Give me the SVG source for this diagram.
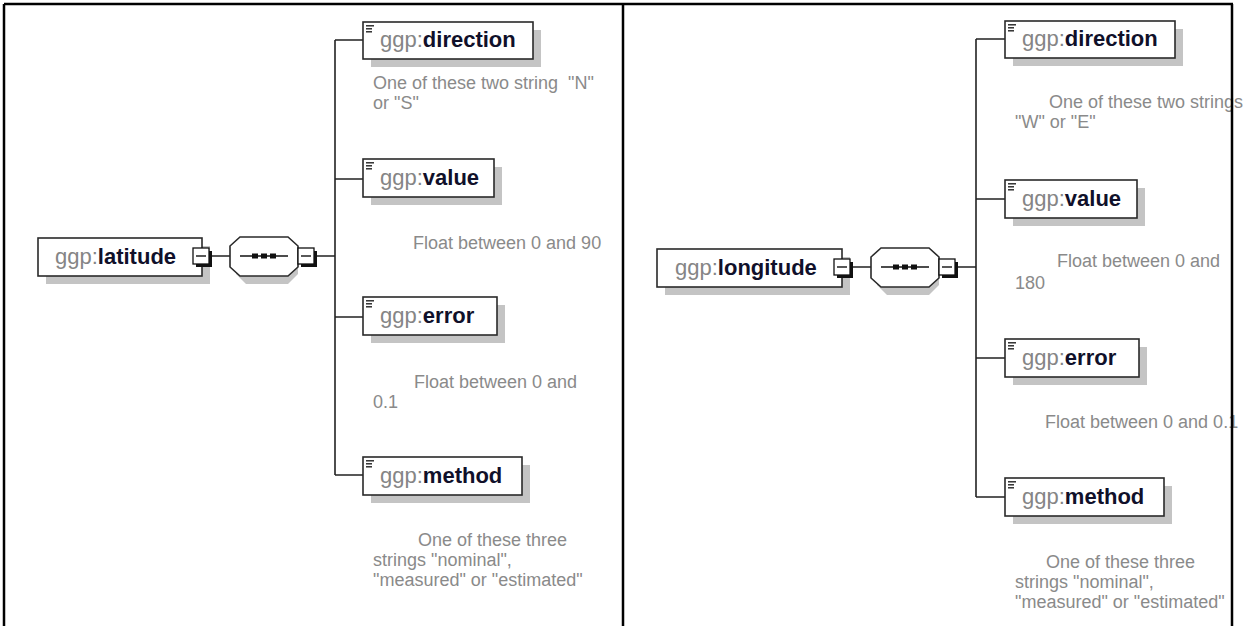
<svg xmlns="http://www.w3.org/2000/svg" width="1247" height="626" viewBox="0 0 1247 626">
<style>
.shadow{fill:#c4c4c4}
.box{fill:#fff;stroke:#2a2a2a;stroke-width:1.6}
.icon{stroke:#222;stroke-width:1.4}
.conn{fill:none;stroke:#222;stroke-width:1.6}
.name{font-family:"Liberation Sans",Arial,sans-serif;font-size:22px}
.pre{fill:#858585}
.nm{fill:#10102a;font-weight:bold}
.desc{font-family:"Liberation Sans",Arial,sans-serif;font-size:18px;fill:#8a8a8a;white-space:pre}
.btn{fill:#fff;stroke:#111;stroke-width:1.3}
.btnsh{fill:#111}
.frame{stroke:#000;stroke-width:2.5;fill:none}
</style>
<defs>
<g id="docicon"><line class="icon" x1="3" y1="3.8" x2="11" y2="3.8"/><line class="icon" x1="3" y1="6.8" x2="9" y2="6.8"/><line class="icon" x1="3" y1="9.8" x2="9" y2="9.8"/></g>
<g id="minus"><rect class="btnsh" x="3" y="3" width="16" height="16"/><rect class="btn" x="0" y="0" width="16" height="16"/><line x1="3" y1="8" x2="13" y2="8" stroke="#111" stroke-width="1.4"/></g>
<g id="seq"><polygon class="shadow" points="16,7 58,7 68,16 68,37 58,47 16,47 6,37 6,16"/><polygon points="10,0 58,0 68,9 68,30 58,39 10,39 0,30 0,9" fill="#fff" stroke="#2a2a2a" stroke-width="1.6"/><line x1="10" y1="19" x2="58" y2="19" stroke="#111" stroke-width="1.6"/><rect x="22" y="16.5" width="6" height="5" fill="#111"/><rect x="31" y="16.5" width="6" height="5" fill="#111"/><rect x="40" y="16.5" width="6" height="5" fill="#111"/></g>
</defs>

<g id="connectors">
<path class="conn" d="M211 256H230 M317 256H335 M335 40V475 M335 40H363 M335 179H363 M335 317H363 M335 475H363"/>
<path class="conn" d="M852 267H872 M957 267H976 M976 39V497 M976 39H1005 M976 199H1005 M976 358H1005 M976 497H1005"/>
</g>

<g id="latitude">
<rect class="shadow" x="46" y="246" width="164" height="38"/>
<rect class="box" x="38" y="238" width="164" height="38"/>
<text class="name" x="55" y="264"><tspan class="pre">ggp:</tspan><tspan class="nm">latitude</tspan></text>
<use href="#minus" x="193" y="248"/>
</g>
<g id="latitude-seq">
<use href="#seq" x="230" y="237"/>
<use href="#minus" x="298" y="248"/>
</g>

<g id="lat-direction">
<rect class="shadow" x="371" y="30" width="170" height="37"/>
<rect class="box" x="363" y="22" width="170" height="37"/>
<use href="#docicon" x="363" y="22"/>
<text class="name" x="380" y="47"><tspan class="pre">ggp:</tspan><tspan class="nm">direction</tspan></text>
<text class="desc" x="373" y="89">One of these two string  "N"</text>
<text class="desc" x="373" y="109">or "S"</text>
</g>
<g id="lat-value">
<rect class="shadow" x="371" y="167" width="131" height="38"/>
<rect class="box" x="363" y="159" width="131" height="38"/>
<use href="#docicon" x="363" y="159"/>
<text class="name" x="380" y="185"><tspan class="pre">ggp:</tspan><tspan class="nm">value</tspan></text>
<text class="desc" x="413" y="249">Float between 0 and 90</text>
</g>
<g id="lat-error">
<rect class="shadow" x="371" y="305" width="134" height="38"/>
<rect class="box" x="363" y="297" width="134" height="38"/>
<use href="#docicon" x="363" y="297"/>
<text class="name" x="380" y="323"><tspan class="pre">ggp:</tspan><tspan class="nm">error</tspan></text>
<text class="desc" x="414" y="388">Float between 0 and</text>
<text class="desc" x="373" y="408">0.1</text>
</g>
<g id="lat-method">
<rect class="shadow" x="371" y="465" width="159" height="38"/>
<rect class="box" x="363" y="457" width="159" height="38"/>
<use href="#docicon" x="363" y="457"/>
<text class="name" x="380" y="483"><tspan class="pre">ggp:</tspan><tspan class="nm">method</tspan></text>
<text class="desc" x="418" y="546">One of these three</text>
<text class="desc" x="373" y="566">strings "nominal",</text>
<text class="desc" x="373" y="586">"measured" or "estimated"</text>
</g>

<g id="longitude">
<rect class="shadow" x="665" y="257" width="185" height="38"/>
<rect class="box" x="657" y="249" width="185" height="38"/>
<text class="name" x="675" y="275"><tspan class="pre">ggp:</tspan><tspan class="nm">longitude</tspan></text>
<use href="#minus" x="834" y="259"/>
</g>
<g id="longitude-seq">
<use href="#seq" x="871" y="248"/>
<use href="#minus" x="939" y="259"/>
</g>

<g id="lon-direction">
<rect class="shadow" x="1013" y="29" width="170" height="37"/>
<rect class="box" x="1005" y="21" width="170" height="37"/>
<use href="#docicon" x="1005" y="21"/>
<text class="name" x="1022" y="46"><tspan class="pre">ggp:</tspan><tspan class="nm">direction</tspan></text>
<text class="desc" x="1049" y="108">One of these two strings</text>
<text class="desc" x="1015" y="128">"W" or "E"</text>
</g>
<g id="lon-value">
<rect class="shadow" x="1013" y="188" width="132" height="38"/>
<rect class="box" x="1005" y="180" width="132" height="38"/>
<use href="#docicon" x="1005" y="180"/>
<text class="name" x="1022" y="206"><tspan class="pre">ggp:</tspan><tspan class="nm">value</tspan></text>
<text class="desc" x="1057" y="267">Float between 0 and</text>
<text class="desc" x="1015" y="289">180</text>
</g>
<g id="lon-error">
<rect class="shadow" x="1013" y="347" width="134" height="38"/>
<rect class="box" x="1005" y="339" width="134" height="38"/>
<use href="#docicon" x="1005" y="339"/>
<text class="name" x="1022" y="365"><tspan class="pre">ggp:</tspan><tspan class="nm">error</tspan></text>
<text class="desc" x="1045" y="428">Float between 0 and 0.1</text>
</g>
<g id="lon-method">
<rect class="shadow" x="1013" y="486" width="159" height="38"/>
<rect class="box" x="1005" y="478" width="159" height="38"/>
<use href="#docicon" x="1005" y="478"/>
<text class="name" x="1022" y="504"><tspan class="pre">ggp:</tspan><tspan class="nm">method</tspan></text>
<text class="desc" x="1046" y="568">One of these three</text>
<text class="desc" x="1015" y="588">strings "nominal",</text>
<text class="desc" x="1015" y="608">"measured" or "estimated"</text>
</g>

<g id="frame">
<path class="frame" d="M4 4H1233 M4 4V626 M623 4V626 M1232 4V626"/>
</g>
</svg>
